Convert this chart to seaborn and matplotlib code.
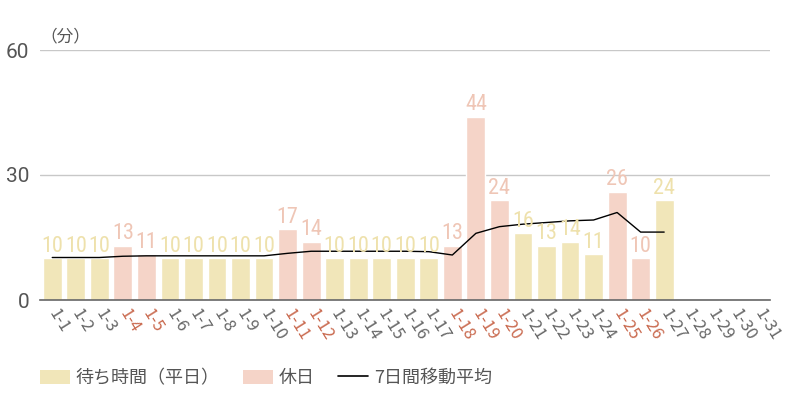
import numpy as np
import pandas as pd
import seaborn as sns
import matplotlib
matplotlib.use("Agg")
import matplotlib.pyplot as plt
from matplotlib.patches import Patch
from matplotlib.lines import Line2D

days = [f"1-{d}" for d in range(1, 32)]
wait_values = [10, 10, 10, 13, 11, 10, 10, 10, 10, 10, 17, 14, 10, 10, 10, 10, 10,
               13, 44, 24, 16, 13, 14, 11, 26, 10, 24]
holidays = [4, 5, 11, 12, 18, 19, 20, 25, 26]
moving_avg = [10.2, 10.2, 10.2, 10.5, 10.6, 10.6, 10.6, 10.6, 10.6, 10.6, 11.2, 11.7,
              11.7, 11.7, 11.7, 11.7, 11.6, 10.8, 16.0, 17.6, 18.2, 18.6, 19.0, 19.2,
              21.0, 16.3, 16.3]
yticks = [0, 30, 60]

WEEKDAY = "#F1E6B9"
HOLIDAY = "#F5D4C8"
WEEKDAY_TXT = "#EEE1AC"
HOLIDAY_TXT = "#EFC6B6"
HOLI_TICK = "#C9694E"
GRAY = "#666666"

n = len(wait_values)
vals = wait_values + [np.nan] * (len(days) - n)
types = ["休日" if (i + 1) in holidays else "平日" for i in range(len(days))]
df = pd.DataFrame({"day": days, "value": vals, "type": types})

sns.set_theme(style="white")
plt.rcParams['font.family'] = ['Noto Sans CJK JP', 'DejaVu Sans']

fig = plt.figure(figsize=(8, 4), dpi=100)
ax = fig.add_axes([0.0506, 0.25, 0.912, 0.625])

sns.barplot(data=df, x="day", y="value", hue="type", order=days,
            palette={"平日": WEEKDAY, "休日": HOLIDAY}, dodge=False,
            width=0.8, ax=ax, legend=False, saturation=1)

x_pos = np.arange(n)
sns.lineplot(x=x_pos, y=moving_avg, color="black", linewidth=1.0, ax=ax)

for i, v in enumerate(wait_values):
    c = HOLIDAY_TXT if (i + 1) in holidays else WEEKDAY_TXT
    ax.annotate(str(v), (i, v), xytext=(0, 1.0), textcoords="offset points",
                ha="center", va="bottom", color=c, fontsize=16,
                family="Roboto Condensed")

ax.set_xlim(-0.5, len(days) - 0.5)
ax.set_ylim(0, 60)
ax.set_yticks(yticks)
ax.set_yticklabels([str(t) for t in yticks], fontsize=15, color="#555555",
                   family="Roboto")
ax.tick_params(axis="y", length=0, pad=8)
ax.yaxis.grid(True, color="#C8C8C8", linewidth=1)
ax.set_axisbelow(True)
for s in ["top", "right", "left"]:
    ax.spines[s].set_visible(False)
ax.spines["bottom"].set_color(GRAY)
ax.spines["bottom"].set_linewidth(1.2)
ax.set_xlabel("")
ax.set_ylabel("")

ax.set_xticks(range(len(days)))
ax.set_xticklabels(days, rotation=-58, ha="left", va="center",
                   rotation_mode="anchor", fontsize=12, family="Noto Sans CJK JP")
ax.tick_params(axis="x", length=0, pad=8)
for i, lab in enumerate(ax.get_xticklabels()):
    lab.set_color(HOLI_TICK if (i + 1) in holidays else GRAY)

ax.text(0.0, 1.02, "（分）", transform=ax.transAxes, ha="left", va="bottom",
        fontsize=12, color="#555555")

handles = [Patch(facecolor=WEEKDAY, edgecolor="none"),
           Patch(facecolor=HOLIDAY, edgecolor="none"),
           Line2D([0], [0], color="black", linewidth=1.2)]
labels = ["待ち時間（平日）", "休日", "7日間移動平均"]
fig.legend(handles, labels, loc="center left", bbox_to_anchor=(0.05, 0.055),
           ncol=3, frameon=False, fontsize=13, handlelength=1.67, handleheight=0.85,
           columnspacing=1.3, handletextpad=0.3, borderpad=0, borderaxespad=0,
           labelcolor="#555555")

fig.savefig("out.png", dpi=100)
